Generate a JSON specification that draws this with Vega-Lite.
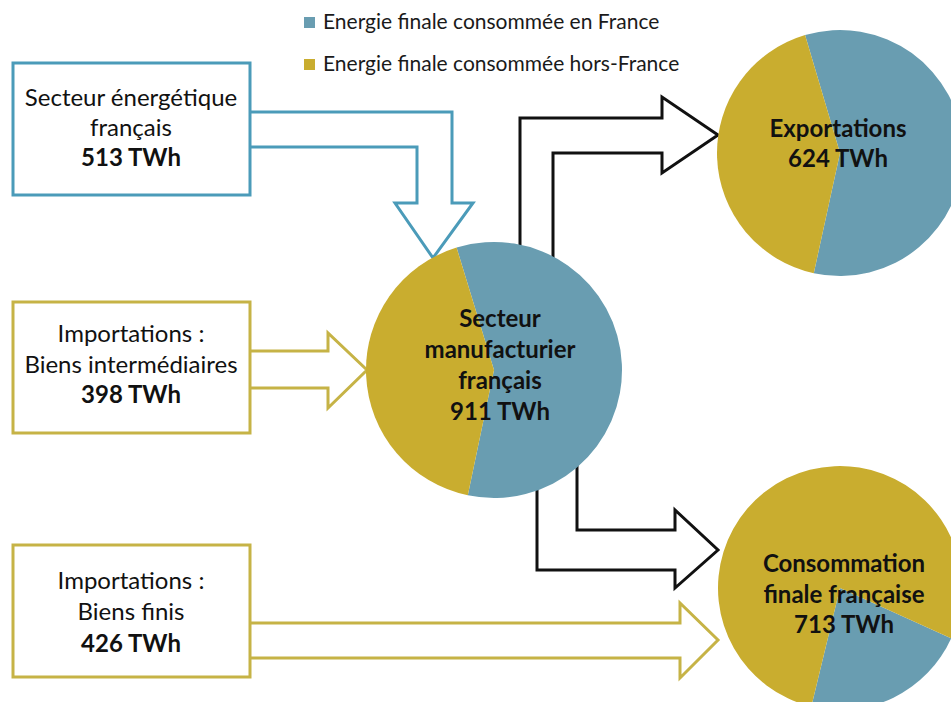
{
  "$schema": "https://vega.github.io/schema/vega-lite/v6.json",
  "width": 951,
  "height": 702,
  "padding": 0,
  "autosize": "none",
  "background": "white",
  "config": {"view": {"stroke": null}, "font": "Lato"},
  "datasets": {
    "boxes": [
      {"source": "Secteur énergétique français", "kind": "energie", "x": 13, "x2": 250, "y": 63, "y2": 195},
      {"source": "Importations : biens intermédiaires", "kind": "import", "x": 13, "x2": 250, "y": 302, "y2": 433},
      {"source": "Importations : biens finis", "kind": "import", "x": 13, "x2": 250, "y": 545, "y2": 677}
    ],
    "arrows": [
      {"flow": "energie", "kind": "energie", "i": 0, "x": 250, "y": 112},
      {"flow": "energie", "kind": "energie", "i": 1, "x": 452, "y": 112},
      {"flow": "energie", "kind": "energie", "i": 2, "x": 452, "y": 203},
      {"flow": "energie", "kind": "energie", "i": 3, "x": 473, "y": 203},
      {"flow": "energie", "kind": "energie", "i": 4, "x": 433, "y": 258},
      {"flow": "energie", "kind": "energie", "i": 5, "x": 395, "y": 203},
      {"flow": "energie", "kind": "energie", "i": 6, "x": 417, "y": 203},
      {"flow": "energie", "kind": "energie", "i": 7, "x": 417, "y": 147},
      {"flow": "energie", "kind": "energie", "i": 8, "x": 250, "y": 147},
      {"flow": "intermediaires", "kind": "import", "i": 0, "x": 250, "y": 351},
      {"flow": "intermediaires", "kind": "import", "i": 1, "x": 328, "y": 351},
      {"flow": "intermediaires", "kind": "import", "i": 2, "x": 328, "y": 333},
      {"flow": "intermediaires", "kind": "import", "i": 3, "x": 367, "y": 370},
      {"flow": "intermediaires", "kind": "import", "i": 4, "x": 328, "y": 408},
      {"flow": "intermediaires", "kind": "import", "i": 5, "x": 328, "y": 388},
      {"flow": "intermediaires", "kind": "import", "i": 6, "x": 250, "y": 388},
      {"flow": "finis", "kind": "import", "i": 0, "x": 250, "y": 623},
      {"flow": "finis", "kind": "import", "i": 1, "x": 680, "y": 623},
      {"flow": "finis", "kind": "import", "i": 2, "x": 680, "y": 603},
      {"flow": "finis", "kind": "import", "i": 3, "x": 718, "y": 640},
      {"flow": "finis", "kind": "import", "i": 4, "x": 680, "y": 678},
      {"flow": "finis", "kind": "import", "i": 5, "x": 680, "y": 658},
      {"flow": "finis", "kind": "import", "i": 6, "x": 250, "y": 658},
      {"flow": "exportations", "kind": "manufacture", "i": 0, "x": 520, "y": 262},
      {"flow": "exportations", "kind": "manufacture", "i": 1, "x": 520, "y": 118},
      {"flow": "exportations", "kind": "manufacture", "i": 2, "x": 662, "y": 118},
      {"flow": "exportations", "kind": "manufacture", "i": 3, "x": 662, "y": 97},
      {"flow": "exportations", "kind": "manufacture", "i": 4, "x": 718, "y": 135},
      {"flow": "exportations", "kind": "manufacture", "i": 5, "x": 662, "y": 173},
      {"flow": "exportations", "kind": "manufacture", "i": 6, "x": 662, "y": 153},
      {"flow": "exportations", "kind": "manufacture", "i": 7, "x": 553, "y": 153},
      {"flow": "exportations", "kind": "manufacture", "i": 8, "x": 553, "y": 262},
      {"flow": "consommation", "kind": "manufacture", "i": 0, "x": 537, "y": 470},
      {"flow": "consommation", "kind": "manufacture", "i": 1, "x": 537, "y": 570},
      {"flow": "consommation", "kind": "manufacture", "i": 2, "x": 675, "y": 570},
      {"flow": "consommation", "kind": "manufacture", "i": 3, "x": 675, "y": 588},
      {"flow": "consommation", "kind": "manufacture", "i": 4, "x": 718, "y": 550},
      {"flow": "consommation", "kind": "manufacture", "i": 5, "x": 675, "y": 510},
      {"flow": "consommation", "kind": "manufacture", "i": 6, "x": 675, "y": 530},
      {"flow": "consommation", "kind": "manufacture", "i": 7, "x": 577, "y": 530},
      {"flow": "consommation", "kind": "manufacture", "i": 8, "x": 577, "y": 450}
    ],
    "pies": [
      {"pie": "manufacturier", "x": 494, "y": 370, "part": "Energie finale consommée en France", "share": 58},
      {"pie": "manufacturier", "x": 494, "y": 370, "part": "Energie finale consommée hors-France", "share": 42},
      {"pie": "exportations", "x": 840, "y": 153, "part": "Energie finale consommée en France", "share": 58},
      {"pie": "exportations", "x": 840, "y": 153, "part": "Energie finale consommée hors-France", "share": 42},
      {"pie": "consommation", "x": 840, "y": 588, "part": "Energie finale consommée en France", "share": 22},
      {"pie": "consommation", "x": 840, "y": 588, "part": "Energie finale consommée hors-France", "share": 78}
    ],
    "labels": [
      {"role": "box", "x": 131, "y": 99, "text": "Secteur énergétique"},
      {"role": "box", "x": 131, "y": 129, "text": "français"},
      {"role": "value", "x": 131, "y": 159, "text": "513 TWh"},
      {"role": "box", "x": 131, "y": 335, "text": "Importations :"},
      {"role": "box", "x": 131, "y": 366, "text": "Biens intermédiaires"},
      {"role": "value", "x": 131, "y": 396, "text": "398 TWh"},
      {"role": "box", "x": 131, "y": 582, "text": "Importations :"},
      {"role": "box", "x": 131, "y": 613, "text": "Biens finis"},
      {"role": "value", "x": 131, "y": 645, "text": "426 TWh"},
      {"role": "pie", "x": 500, "y": 320, "text": "Secteur"},
      {"role": "pie", "x": 500, "y": 351, "text": "manufacturier"},
      {"role": "pie", "x": 500, "y": 382, "text": "français"},
      {"role": "pie", "x": 500, "y": 413, "text": "911 TWh"},
      {"role": "pie", "x": 838, "y": 130, "text": "Exportations"},
      {"role": "pie", "x": 838, "y": 160, "text": "624 TWh"},
      {"role": "pie", "x": 844, "y": 565, "text": "Consommation"},
      {"role": "pie", "x": 844, "y": 596, "text": "finale française"},
      {"role": "pie", "x": 844, "y": 626, "text": "713 TWh"}
    ]
  },
  "layer": [
    {
      "data": {"name": "arrows"},
      "mark": {"type": "line", "strokeWidth": 3, "strokeJoin": "miter", "interpolate": "linear"},
      "encoding": {
        "x": {"field": "x", "type": "quantitative", "stack": null, "scale": {"domain": [0, 951], "nice": false}, "axis": null},
        "y": {"field": "y", "type": "quantitative", "stack": null, "scale": {"domain": [0, 702], "nice": false, "reverse": true}, "axis": null},
        "order": {"field": "i"},
        "detail": {"field": "flow"},
        "stroke": {"field": "kind", "type": "nominal", "scale": {"domain": ["energie", "import", "manufacture"], "range": ["#4b9bb9", "#c6b346", "#111111"]}, "legend": null}
      }
    },
    {
      "data": {"name": "boxes"},
      "mark": {"type": "rect", "fill": "white", "strokeWidth": 3},
      "encoding": {
        "x": {"field": "x", "type": "quantitative", "scale": {"domain": [0, 951], "nice": false}, "axis": null},
        "x2": {"field": "x2"},
        "y": {"field": "y", "type": "quantitative", "scale": {"domain": [0, 702], "nice": false, "reverse": true}, "axis": null},
        "y2": {"field": "y2"},
        "stroke": {"field": "kind", "type": "nominal", "legend": null}
      }
    },
    {
      "data": {"name": "pies"},
      "transform": [
        {"filter": "datum.pie == 'manufacturier'"},
        {"stack": "share", "groupby": ["pie"], "sort": [{"field": "part"}], "as": ["t0", "t1"]}
      ],
      "mark": {"type": "arc", "outerRadius": 128, "clip": true},
      "encoding": {
        "x": {"field": "x", "type": "quantitative", "stack": null, "scale": {"domain": [0, 951], "nice": false}, "axis": null},
        "y": {"field": "y", "type": "quantitative", "stack": null, "scale": {"domain": [0, 702], "nice": false, "reverse": true}, "axis": null},
        "theta": {"field": "t0", "type": "quantitative", "stack": null, "scale": {"domain": [0, 100], "range": [-0.2967, 5.9865]}},
        "theta2": {"field": "t1"},
        "color": {
          "field": "part",
          "type": "nominal",
          "scale": {"domain": ["Energie finale consommée en France", "Energie finale consommée hors-France"], "range": ["#699db1", "#c9ad2f"]},
          "legend": {
            "title": null,
            "orient": "none",
            "legendX": 299,
            "legendY": 12,
            "padding": 0,
            "symbolType": "square",
            "symbolSize": 121,
            "symbolStrokeWidth": 0,
            "labelFont": "Lato",
            "labelFontSize": 21,
            "labelColor": "#1a1a1a",
            "labelOffset": 3,
            "rowPadding": 20,
            "labelLimit": 500
          }
        }
      }
    },
    {
      "data": {"name": "pies"},
      "transform": [
        {"filter": "datum.pie == 'exportations'"},
        {"stack": "share", "groupby": ["pie"], "sort": [{"field": "part"}], "as": ["t0", "t1"]}
      ],
      "mark": {"type": "arc", "outerRadius": 123, "clip": true},
      "encoding": {
        "x": {"field": "x", "type": "quantitative", "stack": null, "scale": {"domain": [0, 951], "nice": false}, "axis": null},
        "y": {"field": "y", "type": "quantitative", "stack": null, "scale": {"domain": [0, 702], "nice": false, "reverse": true}, "axis": null},
        "theta": {"field": "t0", "type": "quantitative", "stack": null, "scale": {"domain": [0, 100], "range": [-0.288, 5.9952]}},
        "theta2": {"field": "t1"},
        "color": {"field": "part", "type": "nominal"}
      }
    },
    {
      "data": {"name": "pies"},
      "transform": [
        {"filter": "datum.pie == 'consommation'"},
        {"stack": "share", "groupby": ["pie"], "sort": [{"field": "part"}], "as": ["t0", "t1"]}
      ],
      "mark": {"type": "arc", "outerRadius": 122, "clip": true},
      "encoding": {
        "x": {"field": "x", "type": "quantitative", "stack": null, "scale": {"domain": [0, 951], "nice": false}, "axis": null},
        "y": {"field": "y", "type": "quantitative", "stack": null, "scale": {"domain": [0, 702], "nice": false, "reverse": true}, "axis": null},
        "theta": {"field": "t0", "type": "quantitative", "stack": null, "scale": {"domain": [0, 100], "range": [1.9967, 8.2799]}},
        "theta2": {"field": "t1"},
        "color": {"field": "part", "type": "nominal"}
      }
    },
    {
      "data": {"name": "labels"},
      "transform": [{"filter": "datum.role == 'box'"}],
      "mark": {"type": "text", "font": "Lato", "fontSize": 24, "color": "#111111", "baseline": "middle", "align": "center"},
      "encoding": {
        "x": {"field": "x", "type": "quantitative", "stack": null, "scale": {"domain": [0, 951], "nice": false}, "axis": null},
        "y": {"field": "y", "type": "quantitative", "stack": null, "scale": {"domain": [0, 702], "nice": false, "reverse": true}, "axis": null},
        "text": {"field": "text"}
      }
    },
    {
      "data": {"name": "labels"},
      "transform": [{"filter": "datum.role == 'value'"}],
      "mark": {"type": "text", "font": "Lato", "fontSize": 24, "fontWeight": "bold", "color": "#111111", "baseline": "middle", "align": "center"},
      "encoding": {
        "x": {"field": "x", "type": "quantitative", "stack": null, "scale": {"domain": [0, 951], "nice": false}, "axis": null},
        "y": {"field": "y", "type": "quantitative", "stack": null, "scale": {"domain": [0, 702], "nice": false, "reverse": true}, "axis": null},
        "text": {"field": "text"}
      }
    },
    {
      "data": {"name": "labels"},
      "transform": [{"filter": "datum.role == 'pie'"}],
      "mark": {"type": "text", "font": "Lato", "fontSize": 24, "fontWeight": "bold", "color": "#111111", "baseline": "middle", "align": "center"},
      "encoding": {
        "x": {"field": "x", "type": "quantitative", "stack": null, "scale": {"domain": [0, 951], "nice": false}, "axis": null},
        "y": {"field": "y", "type": "quantitative", "stack": null, "scale": {"domain": [0, 702], "nice": false, "reverse": true}, "axis": null},
        "text": {"field": "text"}
      }
    }
  ],
  "resolve": {"scale": {"theta": "independent"}}
}
